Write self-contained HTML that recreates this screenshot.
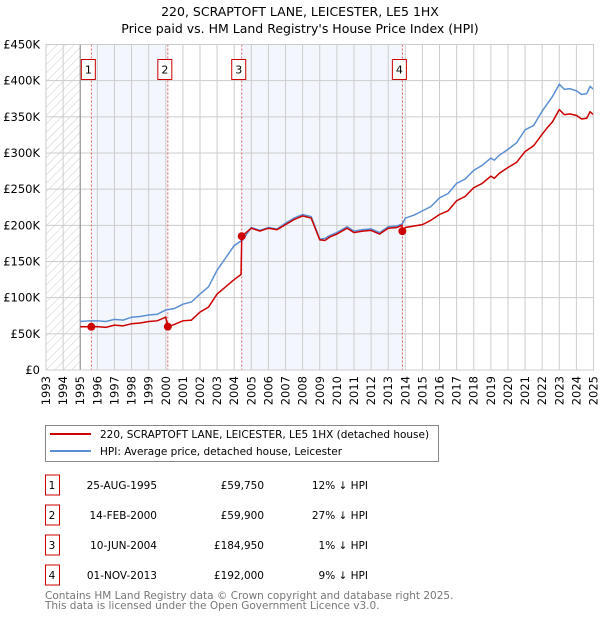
<!DOCTYPE html>
<html><head><meta charset="utf-8"><style>
body{margin:0;background:#fff;width:600px;height:620px;overflow:hidden;font-family:"DejaVu Sans","Liberation Sans",sans-serif}
</style></head><body>
<svg id="chart" width="600" height="620" xmlns="http://www.w3.org/2000/svg" font-family="DejaVu Sans, Liberation Sans, sans-serif">
<defs><pattern id="hatch" width="6" height="6" patternUnits="userSpaceOnUse" patternTransform="rotate(45)"><line x1="0" y1="0" x2="0" y2="6" stroke="#ccc" stroke-width="1"/></pattern></defs>
<text x="300" y="16" text-anchor="middle" font-size="12.5">220, SCRAPTOFT LANE, LEICESTER, LE5 1HX</text>
<text x="300" y="33" text-anchor="middle" font-size="12.5">Price paid vs. HM Land Registry's House Price Index (HPI)</text>
<g id="plot"></g>
<g>
<rect x="45.5" y="425.5" width="393" height="36" fill="#fff" stroke="#888"/>
<line x1="50" y1="434" x2="91" y2="434" stroke="#cc0000" stroke-width="2"/>
<text x="100" y="438" font-size="10.5">220, SCRAPTOFT LANE, LEICESTER, LE5 1HX (detached house)</text>
<line x1="50" y1="451" x2="91" y2="451" stroke="#5b8fd4" stroke-width="2"/>
<text x="100" y="455" font-size="10.5">HPI: Average price, detached house, Leicester</text>
</g>
<g id="table" font-size="10.5"></g>
<text x="45" y="599" font-size="10.5" fill="#777">Contains HM Land Registry data © Crown copyright and database right 2025.</text>
<text x="45" y="609" font-size="10.5" fill="#777">This data is licensed under the Open Government Licence v3.0.</text>
</svg>
<script>
const hpiYears=[1995,1995.5,1996,1996.5,1997,1997.5,1998,1998.5,1999,1999.5,2000,2000.5,2001,2001.5,2002,2002.5,2003,2003.5,2004,2004.5,2005,2005.5,2006,2006.5,2007,2007.5,2008,2008.5,2009,2009.3,2009.6,2010,2010.6,2011,2011.5,2012,2012.5,2013,2013.5,2013.83,2014,2014.5,2015,2015.5,2016,2016.5,2017,2017.5,2018,2018.5,2019,2019.2,2019.5,2020,2020.5,2021,2021.5,2022,2022.3,2022.6,2023,2023.3,2023.6,2024,2024.3,2024.6,2024.8,2025];
const hpiValues=[67,68,68,67,70,69,73,74,76,77,83,85,91,94,105,115,138,155,172,180,197,193,197,195,203,210,215,212,181,182,186,190,198,192,194,195,190,198,199,202,210,214,220,226,238,244,258,264,276,283,293,290,297,305,314,332,338,358,368,378,395,388,389,386,381,382,392,388];
const propYears=[1995,1995.65,1996,1996.5,1997,1997.5,1998,1998.5,1999,1999.5,2000,2000.12,2000.5,2001,2001.5,2002,2002.5,2003,2003.5,2004,2004.4,2004.44,2005,2005.5,2006,2006.5,2007,2007.5,2008,2008.5,2009,2009.3,2009.6,2010,2010.6,2011,2011.5,2012,2012.5,2013,2013.5,2013.8,2013.83,2014,2015,2015.5,2016,2016.5,2017,2017.5,2018,2018.5,2019,2019.2,2019.5,2020,2020.5,2021,2021.5,2022,2022.3,2022.6,2023,2023.3,2023.6,2024,2024.3,2024.6,2024.8,2025];
const propValues=[59.75,59.75,60,59,62,61,64,65,67,68,73,59.9,63,68,69,80,87,105,115,125,132,184.95,196,192,196,194,201,208,213,210,180,179,184,188,196,190,192,193,188,196,197,200,192,197,201,207,215,220,234,240,252,258,268,265,272,280,287,302,310,326,335,343,360,353,354,352,347,348,357,353];
const saleYears=[1995.65,2000.12,2004.44,2013.83];
const saleValues=[59.75,59.9,184.95,192];
const saleLabels=["1","2","3","4"];
const saleDates=["25-AUG-1995","14-FEB-2000","10-JUN-2004","01-NOV-2013"];
const salePrices=["£59,750","£59,900","£184,950","£192,000"];
const salePcts=["12% ↓ HPI","27% ↓ HPI","1% ↓ HPI","9% ↓ HPI"];
const yTicks=[0,50,100,150,200,250,300,350,400,450];
const yTickLabels=["£0","£50K","£100K","£150K","£200K","£250K","£300K","£350K","£400K","£450K"];
const xTicks=[1993,1994,1995,1996,1997,1998,1999,2000,2001,2002,2003,2004,2005,2006,2007,2008,2009,2010,2011,2012,2013,2014,2015,2016,2017,2018,2019,2020,2021,2022,2023,2024,2025];

const NS="http://www.w3.org/2000/svg";
const L=46,R=593.5,T=44.5,B=370;
const x=v=>L+(v-1993)/(2025-1993)*(R-L);
const y=v=>B-v/450*(B-T);
const plot=document.getElementById('plot');
function mk(tag,attrs,parent){const e=document.createElementNS(NS,tag);for(const k in attrs)e.setAttribute(k,attrs[k]);(parent||plot).appendChild(e);return e;}

let r=mk('rect',{x:L,y:T,width:R-L,height:B-T,fill:'#fff'});


r=mk('rect',{x:x(1993),y:T,width:x(1995)-x(1993),height:B-T,fill:'url(#hatch)'});


[[0,1],[2,3]].forEach(p=>{
  const b=mk('rect',{x:x(saleYears[p[0]]),y:T,width:x(saleYears[p[1]])-x(saleYears[p[0]]),height:B-T,fill:'#eef3fc',opacity:0.7});
  
  
});
xTicks.forEach(t=>{
  const g=mk('line',{x1:x(t),x2:x(t),y1:T,y2:B,stroke:'#ccc','stroke-width':1});
  
  
  const tx=mk('text',{x:0,y:0,'font-size':11.5,'text-anchor':'end',transform:`translate(${x(t)+4},${B+6}) rotate(-90)`});
  tx.textContent=t;
  
  
});
yTicks.forEach((t,i)=>{
  const g=mk('line',{x1:L,x2:R,y1:y(t),y2:y(t),stroke:'#ccc','stroke-width':1});
  
  
  const tx=mk('text',{x:40,y:y(t)+4,'font-size':11.5,'text-anchor':'end'});
  tx.textContent=yTickLabels[i];
  
  
});
let ax=mk('line',{x1:x(1995),x2:x(1995),y1:T,y2:B,stroke:'#888'});


saleYears.forEach((s,i)=>{
  const d=mk('line',{x1:x(s),x2:x(s),y1:T,y2:B,stroke:'#e06060','stroke-dasharray':'2,2','stroke-width':1});
  
  
  const bx=mk('rect',{x:x(s)-10,y:59.5,width:14,height:20,fill:'#fff',stroke:'#cc0000'});
  
  
  const tx=mk('text',{x:x(s)-3,y:73.5,'font-size':11,'text-anchor':'middle'});
  tx.textContent=saleLabels[i];
  
  
});
let hp=mk('polyline',{points:hpiYears.map((v,i)=>x(v)+','+y(hpiValues[i])).join(' '),fill:'none',stroke:'#5b8fd4','stroke-width':1.5});


let pp=mk('polyline',{points:propYears.map((v,i)=>x(v)+','+y(propValues[i])).join(' '),fill:'none',stroke:'#cc0000','stroke-width':1.5});


saleYears.forEach((s,i)=>{
  const c=mk('circle',{cx:x(s),cy:y(saleValues[i]),r:4,fill:'#cc0000'});
  
  
});
let fr=mk('rect',{x:L,y:T,width:R-L,height:B-T,fill:'none',stroke:'#ccc'});



const tbl=document.getElementById('table');
saleLabels.forEach((l,i)=>{
  const cy=485+i*30;
  const b=mk('rect',{x:45.5,y:cy-10,width:14,height:20,fill:'#fff',stroke:'#cc0000'},tbl);
  
  
  const cols=[[52,'middle',l,'table-label'],[157,'end',saleDates[i],'sale-date'],[264,'end',salePrices[i],'sale-price'],[368,'end',salePcts[i],'hpi-difference']];
  cols.forEach(c=>{
    const t=mk('text',{x:c[0],y:cy+4,'text-anchor':c[1]},tbl);
    t.textContent=c[2];
    
    
  });
});
</script>
</body></html>
